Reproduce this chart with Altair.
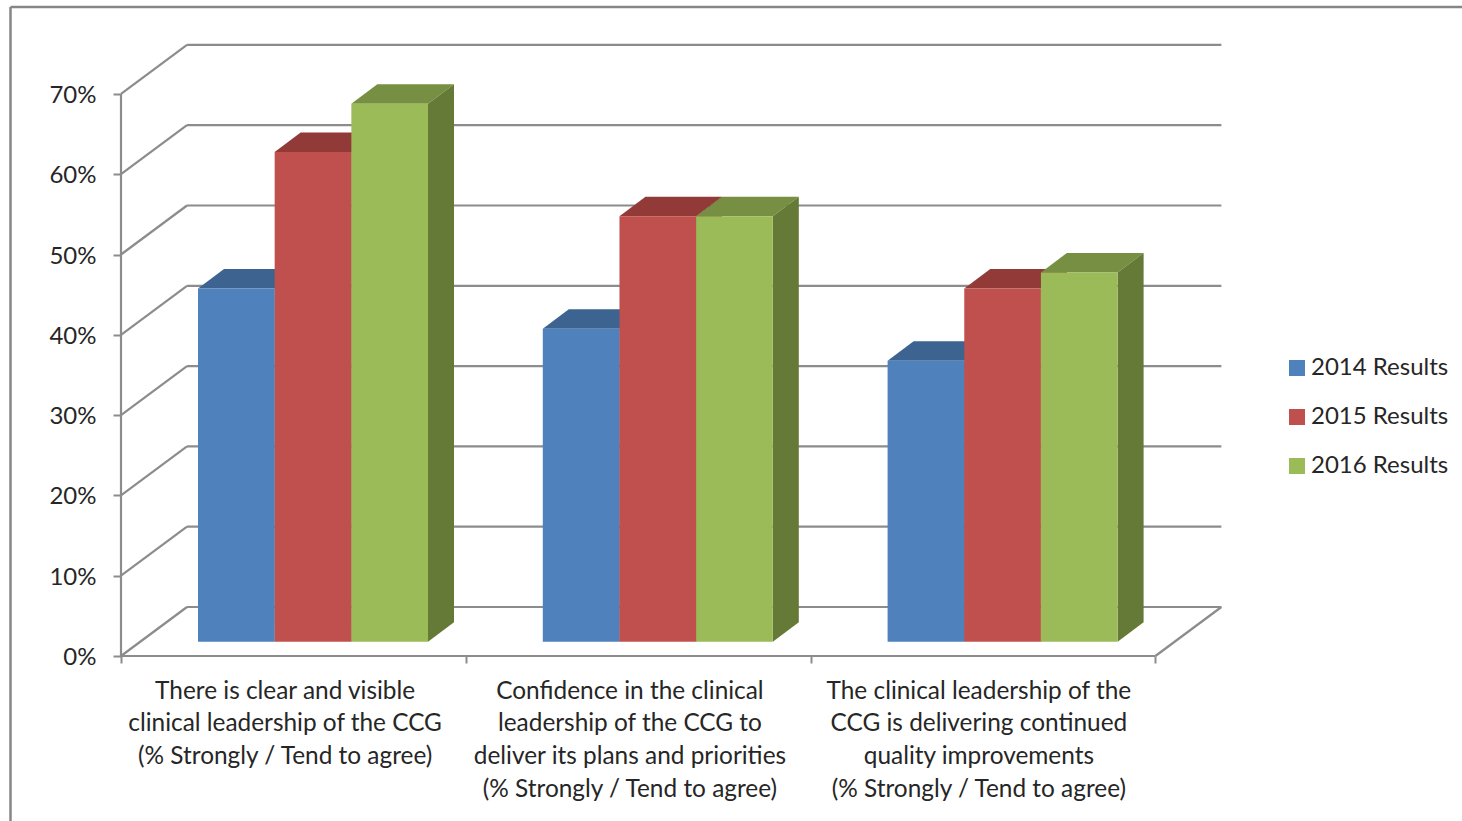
import altair as alt
import pandas as pd

# Survey results, percent agreeing
series = ["2014 Results", "2015 Results", "2016 Results"]
results_2014 = [44, 39, 35]
results_2015 = [61, 53, 44]
results_2016 = [67, 53, 46]
category_labels = [
    "There is clear and visible\nclinical leadership of the CCG\n(% Strongly / Tend to agree)",
    "Confidence in the clinical\nleadership of the CCG to\ndeliver its plans and priorities\n(% Strongly / Tend to agree)",
    "The clinical leadership of the\nCCG is delivering continued\nquality improvements\n(% Strongly / Tend to agree)",
]
percent_ticks = [0, 10, 20, 30, 40, 50, 60, 70]
category_edges = [0, 1, 2, 3]

front_colors = ["#4f81bd", "#c0504d", "#9bbb59"]
top_colors = ["#3d6490", "#913a38", "#778f42"]
side_colors = ["#355578", "#7d3231", "#667a37"]

FRAME = "#8c8c8c"
TEXT = "#262626"
FONT = "Lato"

# Pixel sizes of the plot, and of one unit on each axis
PLOT_W, PLOT_H = 1101, 612
LEFT, TOP = 121, 44
PX_PER_CAT = 344.8
PX_PER_PCT = 8.03

# Oblique projection: how far the back wall and the bars sit from the front plane
WALL_DX = 66 / PX_PER_CAT
WALL_DY = 49 / PX_PER_PCT
BAR_START = 77 / PX_PER_CAT
BAR_W = 76.67 / PX_PER_CAT
BAR_LIFT = 14.2 / PX_PER_PCT
BAR_DX = 26 / PX_PER_CAT
BAR_DY = 19.5 / PX_PER_PCT

x_scale = alt.Scale(domain=[0, PLOT_W / PX_PER_CAT], nice=False, zero=False)
y_scale = alt.Scale(domain=[0, PLOT_H / PX_PER_PCT], nice=False, zero=False)

# Every layer shares these axes: ticks at the category edges and at each ten percent
x_axis = alt.Axis(
    values=category_edges,
    labels=False,
    title=None,
    grid=False,
    domain=False,
    tickColor=FRAME,
    tickWidth=2,
    tickSize=7,
)
y_axis = alt.Axis(
    values=percent_ticks,
    labelExpr="datum.value + '%'",
    title=None,
    grid=False,
    domain=False,
    tickColor=FRAME,
    tickWidth=2,
    tickSize=8,
    labelFont=FONT,
    labelFontSize=24,
    labelColor=TEXT,
    labelPadding=17,
    labelOffset=1.5,
)

X = lambda f="x": alt.X(f"{f}:Q", scale=x_scale, axis=x_axis)
Y = lambda f="y": alt.Y(f"{f}:Q", scale=y_scale, axis=y_axis)

# Bars, in front-plane coordinates
fronts, faces = [], []
for s_i, (name, values) in enumerate(zip(series, [results_2014, results_2015, results_2016])):
    for c_i, v in enumerate(values):
        x0 = c_i + BAR_START + s_i * BAR_W
        x1 = x0 + BAR_W
        top = v + BAR_LIFT
        fronts.append({"series": name, "x": x0, "x2": x1, "y": BAR_LIFT, "y2": top})
        face = f"{s_i}-{c_i}"
        for px, lo, hi in [
            (x0, top, top),
            (x0 + BAR_DX, top, top + BAR_DY),
            (x1, top, top + BAR_DY),
            (x1 + BAR_DX, top + BAR_DY, top + BAR_DY),
        ]:
            faces.append({"face": "t" + face, "fill": top_colors[s_i], "x": px, "y": lo, "y2": hi})
        for px, lo, hi in [
            (x1, BAR_LIFT, top),
            (x1 + BAR_DX, BAR_LIFT + BAR_DY, top + BAR_DY),
        ]:
            faces.append({"face": "s" + face, "fill": side_colors[s_i], "x": px, "y": lo, "y2": hi})

# Back wall, side wall and floor edges
back_lines = pd.DataFrame(
    [{"x": WALL_DX, "x2": 3 + WALL_DX, "y": p + WALL_DY} for p in percent_ticks]
)
slants = pd.DataFrame(
    [{"x": 0, "x2": WALL_DX, "y": p, "y2": p + WALL_DY} for p in percent_ticks]
    + [{"x": 3, "x2": 3 + WALL_DX, "y": 0, "y2": WALL_DY}]
)
edges_h = pd.DataFrame([{"x": 0, "x2": 3, "y": 0}])
edges_v = pd.DataFrame([{"x": 0, "y": 0, "y2": 70}])

labels = pd.DataFrame(
    {"label": category_labels, "x": [0.476, 1.476, 2.488], "y": [-35.6 / PX_PER_PCT] * 3}
)

line = dict(color=FRAME, strokeWidth=2.2)

back = alt.Chart(back_lines).mark_rule(**line).encode(x=X(), x2="x2:Q", y=Y())
slant = alt.Chart(slants).mark_rule(**line).encode(x=X(), x2="x2:Q", y=Y(), y2="y2:Q")
base_x = alt.Chart(edges_h).mark_rule(**line).encode(x=X(), x2="x2:Q", y=Y())
base_y = alt.Chart(edges_v).mark_rule(**line).encode(x=X(), y=Y(), y2="y2:Q")

shaded = (
    alt.Chart(pd.DataFrame(faces))
    .mark_area(opacity=1)
    .encode(
        x=X(),
        y=Y(),
        y2="y2:Q",
        detail="face:N",
        fill=alt.Fill("fill:N", scale=None),
    )
)

front = (
    alt.Chart(pd.DataFrame(fronts))
    .mark_rect()
    .encode(
        x=X(),
        x2="x2:Q",
        y=Y(),
        y2="y2:Q",
        color=alt.Color(
            "series:N",
            scale=alt.Scale(domain=series, range=front_colors),
            legend=alt.Legend(
                title=None,
                orient="none",
                legendX=1164,
                legendY=312,
                symbolType="square",
                symbolSize=256,
                symbolStrokeWidth=0,
                symbolOpacity=1,
                labelFont=FONT,
                labelFontSize=24,
                labelColor=TEXT,
                labelOffset=2,
                rowPadding=25,
            ),
        ),
    )
)

category_text = (
    alt.Chart(labels)
    .mark_text(
        font=FONT,
        fontSize=24.4,
        color=TEXT,
        align="center",
        baseline="middle",
        lineBreak="\n",
        lineHeight=32.7,
    )
    .encode(x=X(), y=Y(), text="label:N")
)

# Outer frame of the chart area; it runs off the page to the right and bottom
frame_top = (
    alt.Chart(pd.DataFrame({"a": [0]}))
    .mark_rule(color="#868686", strokeWidth=2.5)
    .encode(x=alt.value(-LEFT + 10.5), x2=alt.value(1462 - LEFT), y=alt.value(7 - TOP))
)
frame_left = (
    alt.Chart(pd.DataFrame({"a": [0]}))
    .mark_rule(color="#868686", strokeWidth=2.5)
    .encode(x=alt.value(-LEFT + 10.5), y=alt.value(7 - TOP), y2=alt.value(821 - TOP))
)

chart = (
    alt.layer(
        frame_top, frame_left, back, slant, base_x, base_y,
        shaded, front, category_text,
    )
    .properties(
        width=PLOT_W,
        height=PLOT_H,
        padding={"left": LEFT, "top": TOP, "right": 1462 - LEFT - PLOT_W, "bottom": 821 - TOP - PLOT_H},
        autosize=alt.AutoSizeParams(type="none"),
        background="white",
    )
    .configure_view(stroke=None)
)

chart.save("out.html", embed_options={"renderer": "svg", "actions": False})
